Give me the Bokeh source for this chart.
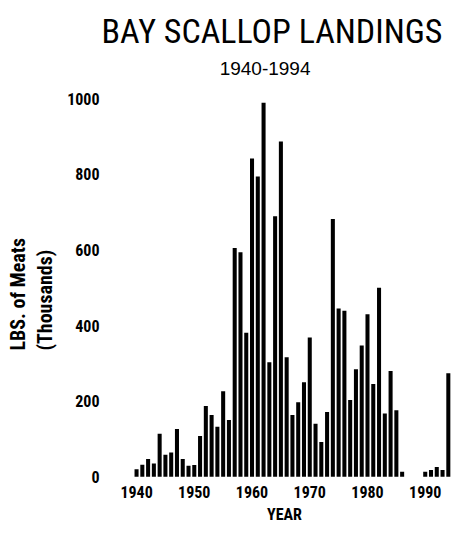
from bokeh.plotting import figure
from bokeh.models import FixedTicker, ColumnDataSource, Title
from bokeh.embed import file_html
from bokeh.resources import INLINE

years = list(range(1940, 1995))
landings = [20, 32, 47, 35, 114, 58, 64, 126, 47, 29,
            31, 108, 187, 163, 132, 226, 150, 605, 594, 381,
            842, 794, 989, 303, 689, 887, 316, 163, 197, 250,
            368, 140, 92, 171, 682, 445, 439, 203, 284, 347,
            430, 245, 500, 167, 280, 176, 13, 0, 0, 0,
            13, 18, 26, 18, 274]
x_ticks = [1940, 1950, 1960, 1970, 1980, 1990]
y_ticks = [0, 200, 400, 600, 800, 1000]

NARROW = "'Liberation Sans Narrow', 'Roboto Condensed', 'DejaVu Sans Condensed', 'Liberation Sans', sans-serif"
REG = "'Liberation Sans', Arial, sans-serif"

src = ColumnDataSource(dict(year=years, lbs=landings))

p = figure(width=451, height=527, output_backend="svg", toolbar_location=None,
           x_range=(1936.7, 1994.55), y_range=(-2, 1029.5),
           min_border_left=112, min_border_right=0, min_border_top=87, min_border_bottom=50)

p.vbar(x="year", top="lbs", bottom=0, width=0.7, source=src,
       fill_color="black", line_color=None)

p.outline_line_color = None
p.xgrid.visible = False
p.ygrid.visible = False

for ax in (p.xaxis[0], p.yaxis[0]):
    ax.axis_line_color = None
    ax.major_tick_line_color = None
    ax.minor_tick_line_color = None
    ax.major_tick_out = 0
    ax.major_tick_in = 0
    ax.major_label_text_font = NARROW
    ax.major_label_text_font_style = "bold"
    ax.major_label_text_color = "black"
    ax.major_label_text_font_size = "16px"

p.xaxis.ticker = FixedTicker(ticks=x_ticks)
p.yaxis.ticker = FixedTicker(ticks=y_ticks)
p.xaxis.major_label_standoff = 8
p.yaxis.major_label_standoff = 18

p.xaxis.axis_label = "YEAR"
p.xaxis.axis_label_text_font = NARROW
p.xaxis.axis_label_text_font_size = "16px"
p.xaxis.axis_label_text_font_style = "bold"
p.xaxis.axis_label_text_color = "black"
p.xaxis.axis_label_standoff = 4

# y axis title (two lines, left aligned = starting from the bottom)
p.add_layout(Title(text="LBS. of Meats\n(Thousands)", align="left", offset=127,
                   vertical_align="top", standoff=10,
                   text_font=NARROW, text_font_size="20px", text_font_style="bold",
                   text_color="black", text_line_height=1.15), "left")

# subtitle first (closest to the frame), then the main title
p.add_layout(Title(text="1940-1994", align="right", offset=141,
                   vertical_align="top", standoff=22,
                   text_font=REG, text_font_size="19px", text_font_style="normal",
                   text_color="black"), "above")
p.add_layout(Title(text="BAY SCALLOP LANDINGS", align="right", offset=9,
                   vertical_align="bottom", standoff=0,
                   text_font=NARROW, text_font_size="34px", text_font_style="normal",
                   text_color="black"), "above")

open("out.html", "w").write(file_html(p, INLINE))
